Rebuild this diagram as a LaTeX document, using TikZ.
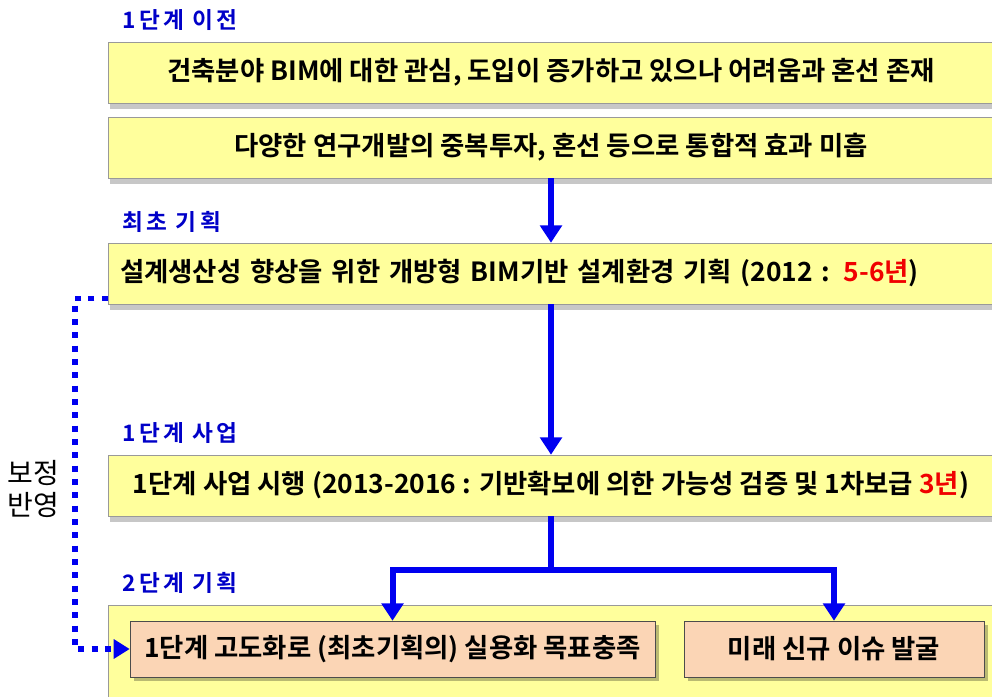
\documentclass[tikz,border=0pt]{standalone}
\usepackage{fontspec}
\setmainfont{Noto Sans CJK KR}[BoldFont={Noto Sans CJK KR Bold}]
\usetikzlibrary{arrows.meta,shadows}

\definecolor{boxyellow}{HTML}{FFFF9C}
\definecolor{boxpeach}{HTML}{FBD5B5}
\definecolor{flowblue}{HTML}{0000F0}
\definecolor{tagblue}{HTML}{0000C8}
\definecolor{yearred}{HTML}{F00000}

\begin{document}
\begin{tikzpicture}[x=0.75pt,y=-0.75pt,
	stagebox/.style={draw=gray!80,fill=boxyellow,inner sep=0,minimum width=664.5pt,minimum height=45.75pt,
		font=\bfseries\fontsize{19.8}{23}\selectfont,
		drop shadow={shadow xshift=1.5pt,shadow yshift=-4.5pt,fill=black,opacity=0.22}},
	goalbox/.style={draw=black!70,fill=boxpeach,inner sep=0,minimum height=42pt,
		font=\bfseries\fontsize{19.8}{23}\selectfont,
		drop shadow={shadow xshift=3pt,shadow yshift=-3pt,fill=black!45!boxyellow,opacity=0.6}},
	tag/.style={anchor=west,inner sep=0,text=tagblue,
		font=\bfseries\fontsize{17}{20}\selectfont\addfontfeatures{LetterSpace=15}},
	flow/.style={draw=flowblue,line width=4.5pt,-{Triangle[width=16pt,length=13pt]}},
	fbline/.style={draw=flowblue,line width=4pt,dash pattern=on 4.5pt off 5.5pt,
		-{Triangle[width=14pt,length=12pt]}},
	]
	\clip (0,0) rectangle (992,696);

	% stage boxes
	\node[stagebox] (1) at (551,72.5) {건축분야 BIM에 대한 관심, 도입이 증가하고 있으나 어려움과 혼선 존재};
	\node[stagebox] (2) at (551,147.5) {다양한 연구개발의 중복투자, 혼선 등으로 통합적 효과 미흡};
	\node[stagebox,text width=646.5pt,align=left] (3) at (551,273.5)
		{설계생산성 향상을 위한 개방형 BIM기반 설계환경 기획 (2012 : \textcolor{yearred}{5-6년})};
	\node[stagebox] (4) at (551,485.5)
		{1단계 사업 시행 (2013-2016 : 기반확보에 의한 가능성 검증 및 1차보급 \textcolor{yearred}{3년})};
	\node[stagebox,minimum height=86.25pt] (5) at (551,662.5) {};
	\node[goalbox,minimum width=393.75pt] (a) at (392.5,649) {1단계 고도화로 (최초기획의) 실용화 목표충족};
	\node[goalbox,minimum width=225pt] (b) at (834,649) {미래 신규 이슈 발굴};

	% stage tags
	\node[tag] (t1) at (122,20) {1단계 이전};
	\node[tag] (t2) at (122,222) {최초 기획};
	\node[tag] (t3) at (122,433) {1단계 사업};
	\node[tag] (t4) at (122,583) {2단계 기획};
	\node[align=center,font=\fontsize{21}{24}\selectfont] (fbtext) at (33,489) {보정\\반영};

	% connectors
	\coordinate (split) at (551,570);
	\coordinate (fb) at (75,649);
	\draw[flow] (2) -- (3);
	\draw[flow] (3) -- (4);
	\draw[draw=flowblue,line width=4.5pt] (4.south) -- (split);
	\draw[flow] ([xshift=2.25pt]split) -| (a.north);
	\draw[flow] ([xshift=-2.25pt]split) -| (b.north);
	\draw[fbline] ([yshift=4.5pt]3.south west) -| (fb) -- (a.west);
\end{tikzpicture}
\end{document}
